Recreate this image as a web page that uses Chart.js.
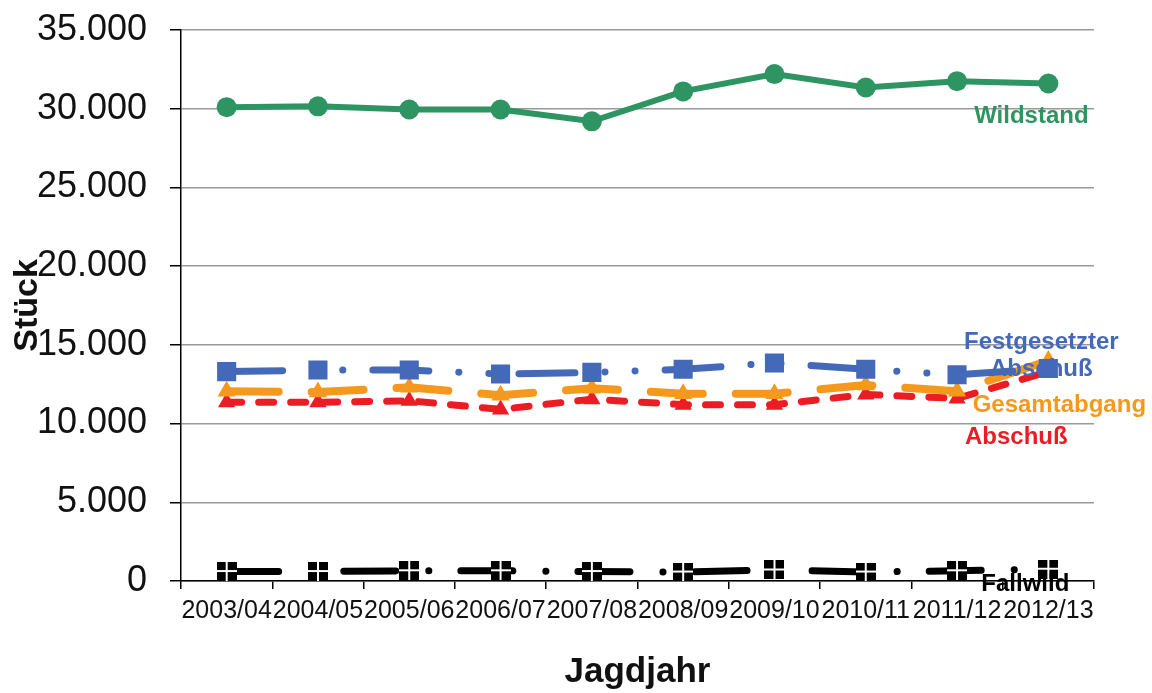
<!DOCTYPE html>
<html lang="de">
<head>
<meta charset="utf-8">
<title>Wildstand und Abschuß</title>
<script src="https://cdn.jsdelivr.net/npm/chart.js@4.4.1/dist/chart.umd.min.js"></script>
<style>
  html, body { margin: 0; padding: 0; background: #fff; }
  #chart_box { width: 1152px; height: 693px; }
</style>
</head>
<body>
<div id="chart_box"><canvas id="wild_chart"></canvas></div>
<script>
//! Data
const jagdjahre = ['2003/04', '2004/05', '2005/06', '2006/07', '2007/08', '2008/09', '2009/10', '2010/11', '2011/12', '2012/13'];
const wildstand = [30100, 30150, 29950, 29950, 29200, 31100, 32200, 31350, 31750, 31600];
const festgesetzter_abschuss = [13300, 13400, 13400, 13150, 13250, 13450, 13850, 13450, 13100, 13500];
const gesamtabgang = [12050, 12000, 12300, 11800, 12250, 11900, 11900, 12450, 12050, 14000];
const abschuss = [11350, 11350, 11450, 10900, 11550, 11200, 11200, 11850, 11600, 13300];
const fallwild = [600, 600, 650, 650, 600, 570, 700, 570, 650, 750];
const y_ticks = [0, 5000, 10000, 15000, 20000, 25000, 30000, 35000];

const FONT = '"Liberation Sans", Arial, sans-serif';

//! German number format: 35000 -> 35.000
function formatNumber(v) {
    return String(v).replace(/\B(?=(\d{3})+(?!\d))/g, '.');
}

//! Fallwild marker: black square with a white cross
function fallwildMarker() {
    const c = document.createElement('canvas');
    c.width = 20;
    c.height = 19;
    const g = c.getContext('2d');
    g.fillStyle = '#000';
    g.fillRect(0, 0, 20, 19);
    g.fillStyle = '#fff';
    g.fillRect(9, 0, 2, 19);
    g.fillRect(0, 8, 20, 2);
    return c;
}

//! Series names written at the end of each line (offset from last point)
const end_labels = [
    { lines: ['Wildstand'], color: '#2E9562', dx: -17, dy: 33 },
    { lines: ['Festgesetzter', 'Abschuß'], color: '#4469B8', dx: -7, dy: -26 },
    { lines: ['Gesamtabgang'], color: '#F5981E', dx: 11, dy: 45 },
    { lines: ['Abschuß'], color: '#EC1C24', dx: -32, dy: 66 },
    { lines: ['Fallwild'], color: '#000', dx: -23, dy: 15 }
];

const endLabelPlugin = {
    id: 'endLabels',
    afterDatasetsDraw(chart) {
        const ctx = chart.ctx;
        ctx.save();
        ctx.font = 'bold 24px ' + FONT;
        ctx.textAlign = 'center';
        ctx.textBaseline = 'middle';
        end_labels.forEach((lab, i) => {
            const meta = chart.getDatasetMeta(i);
            const last = meta.data[meta.data.length - 1];
            ctx.fillStyle = lab.color;
            lab.lines.forEach((txt, k) => {
                ctx.fillText(txt, last.x + lab.dx, last.y + lab.dy + k * 27);
            });
        });
        ctx.restore();
    }
};

const ctx = document.getElementById('wild_chart').getContext('2d');

let my_chart = new Chart(ctx, {
    type: 'line',
    data: {
        labels: jagdjahre,
        datasets: [
            {
                label: 'Wildstand',
                data: wildstand,
                borderColor: '#2E9562',
                backgroundColor: '#2E9562',
                borderWidth: 6,
                pointStyle: 'circle',
                pointRadius: 10,
                pointBorderWidth: 0
            },
            {
                label: 'Festgesetzter Abschuß',
                data: festgesetzter_abschuss,
                borderColor: '#4469B8',
                backgroundColor: '#4469B8',
                borderWidth: 7,
                borderCapStyle: 'round',
                borderDash: [56, 30, 0.1, 30, 0.1, 30],
                pointStyle: 'rect',
                pointRadius: 13.5,
                pointBorderWidth: 0
            },
            {
                label: 'Gesamtabgang',
                data: gesamtabgang,
                borderColor: '#F5981E',
                backgroundColor: '#F5981E',
                borderWidth: 8,
                borderCapStyle: 'round',
                borderDash: [52, 33],
                pointStyle: 'triangle',
                pointRadius: 10.5,
                pointBorderWidth: 0
            },
            {
                label: 'Abschuß',
                data: abschuss,
                borderColor: '#EC1C24',
                backgroundColor: '#EC1C24',
                borderWidth: 7,
                borderCapStyle: 'round',
                borderDash: [15, 17],
                pointStyle: 'triangle',
                pointRadius: 10,
                pointBorderWidth: 0
            },
            {
                label: 'Fallwild',
                data: fallwild,
                borderColor: '#000',
                backgroundColor: '#000',
                borderWidth: 7,
                borderCapStyle: 'round',
                borderDash: [52, 33, 0.1, 32],
                pointStyle: fallwildMarker(),
                pointRadius: 10
            }
        ]
    },
    options: {
        responsive: true,
        maintainAspectRatio: false,
        animation: false,
        devicePixelRatio: 1,
        layout: { padding: { left: 0, right: 58, top: 30, bottom: 0 } },
        plugins: {
            legend: { display: false },
            tooltip: { enabled: false }
        },
        scales: {
            x: {
                offset: true,
                afterFit: scale => { scale.height = 112; },
                border: { color: '#000', width: 1.5 },
                grid: {
                    offset: true,
                    drawOnChartArea: false,
                    drawTicks: true,
                    tickLength: 8,
                    tickColor: '#000',
                    lineWidth: 1.5
                },
                ticks: {
                    autoSkip: false,
                    maxRotation: 0,
                    minRotation: 0,
                    padding: 7,
                    color: '#111',
                    font: { family: FONT, size: 25 }
                },
                title: {
                    display: true,
                    text: 'Jagdjahr',
                    color: '#111',
                    padding: { top: 0, bottom: 0 },
                    font: { family: FONT, size: 35, weight: 'bold' }
                }
            },
            y: {
                min: 0,
                max: 35000,
                afterFit: scale => {
                    scale.width = 181;
                    scale.paddingTop = 0;
                    scale.paddingBottom = 0;
                },
                afterBuildTicks: scale => { scale.ticks = y_ticks.map(v => ({ value: v })); },
                border: { color: '#000', width: 1.5 },
                grid: {
                    color: '#999',
                    lineWidth: 1.5,
                    drawTicks: true,
                    tickLength: 11,
                    tickColor: '#000'
                },
                ticks: {
                    padding: 23,
                    color: '#111',
                    font: { family: FONT, size: 36 },
                    callback: v => formatNumber(v)
                },
                title: {
                    display: true,
                    text: 'Stück',
                    color: '#111',
                    padding: { top: 7, bottom: 0 },
                    font: { family: FONT, size: 34, weight: 'bold' }
                }
            }
        }
    },
    plugins: [endLabelPlugin]
});
</script>
</body>
</html>
